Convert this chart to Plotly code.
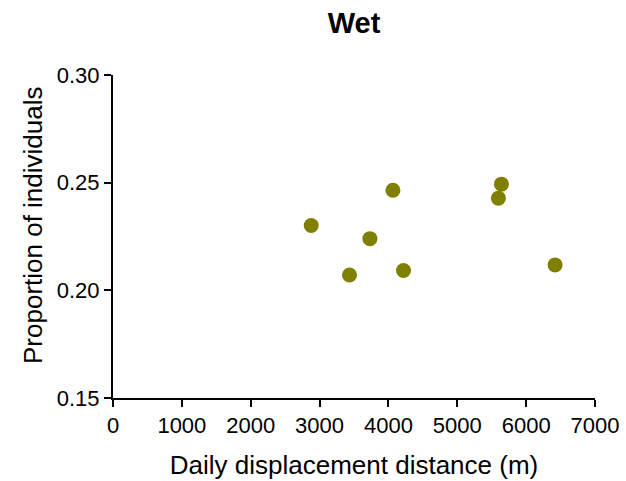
import plotly.graph_objects as go

distance_m = [2879, 3435, 3731, 4065, 4219, 5597, 5641, 6420]
proportion = [0.2301, 0.2071, 0.2240, 0.2465, 0.2092, 0.2428, 0.2493, 0.2118]

x_ticks = [0, 1000, 2000, 3000, 4000, 5000, 6000, 7000]
y_ticks = [0.15, 0.20, 0.25, 0.30]
y_tick_labels = ["0.15", "0.20", "0.25", "0.30"]

W, H = 626, 481
L, R, T, B = 113, 31, 75, 83

fig = go.Figure(
    go.Scatter(
        x=distance_m, y=proportion, mode="markers",
        marker=dict(color="#808000", size=15, line=dict(width=0)),
        cliponaxis=False,
    )
)

font = "Liberation Sans, Arial, sans-serif"
fig.update_layout(
    width=W, height=H,
    margin=dict(l=L, r=R, t=T, b=B),
    paper_bgcolor="white", plot_bgcolor="white",
    showlegend=False,
    font=dict(family=font, color="black", size=16),
    title=dict(text="<b>Wet</b>", x=(L + W - R) / 2 / W, xanchor="center",
               y=1 - 23 / H, yanchor="middle", font=dict(size=29, family=font)),
    annotations=[dict(
        text="Proportion of individuals", textangle=-90, showarrow=False,
        xref="paper", yref="paper",
        x=-(L - 33) / (W - L - R), y=(H - B - 225) / (H - T - B),
        xanchor="center", yanchor="middle", font=dict(size=26),
    )],
)
fig.update_xaxes(
    range=[0, 7000], tickvals=x_ticks, showgrid=False, zeroline=False,
    showline=True, linecolor="black", linewidth=2, automargin=False,
    ticks="outside", ticklen=7, tickwidth=2, tickcolor="black",
    tickfont=dict(size=22),
    title=dict(text="Daily displacement distance (m)", font=dict(size=26), standoff=18),
)
fig.update_yaxes(
    range=[0.15, 0.30], tickvals=y_ticks, ticktext=y_tick_labels, showgrid=False, zeroline=False,
    showline=True, linecolor="black", linewidth=2, automargin=False,
    ticks="outside", ticklen=7, tickwidth=2, tickcolor="black",
    tickfont=dict(size=22),
)

fig.write_html("out.html")
